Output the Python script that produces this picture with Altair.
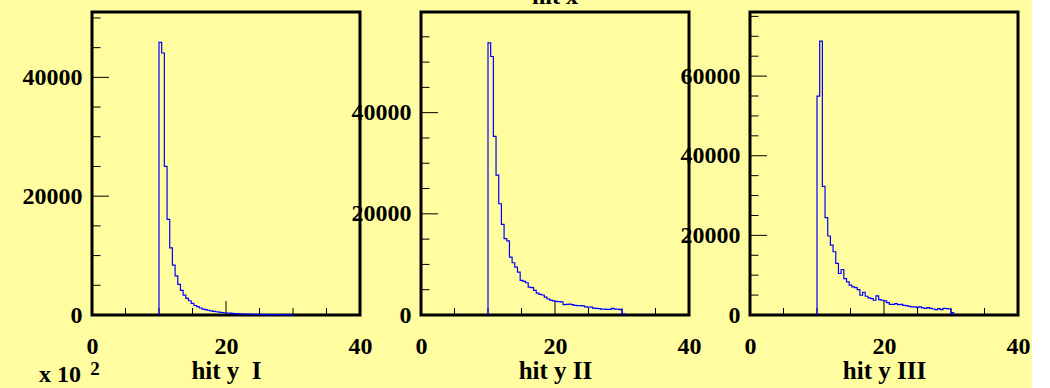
import altair as alt
import pandas as pd

# ---- data ----
bin_start = 10.0
bin_width = 0.4

counts_I = [45900, 44100, 25000, 16100, 11300, 8400, 6600, 5150, 4150, 3350,
            2800, 2400, 1950, 1600, 1400, 1180, 1000, 900, 800, 700,
            620, 550, 480, 420, 380, 340, 300, 270, 240, 210,
            190, 170, 150, 140, 125, 110, 100, 90, 80, 75,
            70, 60, 55, 50, 45, 40, 35, 30, 30, 25]

counts_II = [53800, 51100, 35300, 27640, 21990, 17900, 15100, 14650, 11450, 10330,
             9475, 8490, 6840, 6650, 6380, 5530, 5400, 4870, 4340, 4080,
             3950, 3550, 3160, 2960, 2800, 2700, 2650, 2600, 2050, 2100,
             2150, 2050, 1900, 1850, 1850, 1800, 1600, 1550, 1550, 1350,
             1300, 1250, 1150, 1150, 1120, 1120, 1300, 1180, 1150, 1050,
             250]

counts_III = [54980, 68770, 32280, 24460, 19840, 17570, 15890, 12950, 10420, 11430,
              9160, 8320, 7480, 7060, 6890, 6390, 4960, 5720, 4710, 4290,
              4120, 3700, 4790, 3870, 3700, 3530, 3110, 2690, 2690, 2860,
              2600, 2690, 2440, 2350, 2190, 2020, 2020, 1930, 2020, 1770,
              1680, 1850, 1680, 1510, 1350, 1600, 1350, 1680, 1600, 1510,
              600]

x_labels = [0, 20, 40]
x_minor = [5, 10, 15, 25, 30, 35]
y_major_I = [0, 20000, 40000]
y_major_II = [0, 20000, 40000]
y_major_III = [0, 20000, 40000, 60000]
y_minor_I = [5000, 10000, 15000, 25000, 30000, 35000, 45000, 50000]
y_minor_II = [5000, 10000, 15000, 25000, 30000, 35000, 45000, 50000, 55000]
y_minor_III = [5000, 10000, 15000, 25000, 30000, 35000, 45000, 50000, 55000, 65000, 70000, 75000]
y_max = [51000, 59900, 76100]
x_titles = ["hit y \u00a0I", "hit y II", "hit y III"]
top_title = "hit x"
exp_text = ["x 10", "2"]

W, H = 268, 303
FONT = "Liberation Serif"
BLUE = "#0000ff"


def hist_frame(counts):
    rows = [{"x": bin_start, "n": 0, "i": 0}]
    for k, c in enumerate(counts):
        rows.append({"x": round(bin_start + k * bin_width, 2), "n": c, "i": k + 1})
    rows.append({"x": round(bin_start + len(counts) * bin_width, 2), "n": 0, "i": len(counts) + 1})
    return pd.DataFrame(rows)


def panel(counts, ymax, ymajor, yminor, xtitle, extra=None):
    xs = alt.Scale(domain=[0, 40], nice=False, zero=False)
    ys = alt.Scale(domain=[0, ymax], nice=False, zero=True)
    line = alt.Chart(hist_frame(counts)).mark_line(
        interpolate="step-after", color=BLUE, strokeWidth=1.2
    ).encode(
        x=alt.X("x:Q", scale=xs, axis=alt.Axis(values=x_labels, title=xtitle, format="d")),
        y=alt.Y("n:Q", scale=ys, axis=alt.Axis(values=ymajor, title=None, format="d")),
        order=alt.Order("i:Q"),
    )
    xmin = alt.Chart(pd.DataFrame({"x": x_minor})).mark_rule(color="black", strokeWidth=1).encode(
        x=alt.X("x:Q", scale=xs), y=alt.value(H), y2=alt.value(H - 7))
    xmaj = alt.Chart(pd.DataFrame({"x": [20]})).mark_rule(color="black", strokeWidth=1).encode(
        x=alt.X("x:Q", scale=xs), y=alt.value(H), y2=alt.value(H - 14))
    ymin = alt.Chart(pd.DataFrame({"n": yminor})).mark_rule(color="black", strokeWidth=1).encode(
        y=alt.Y("n:Q", scale=ys), x=alt.value(0), x2=alt.value(8.5))
    ymaj = alt.Chart(pd.DataFrame({"n": ymajor})).mark_rule(color="black", strokeWidth=1).encode(
        y=alt.Y("n:Q", scale=ys), x=alt.value(0), x2=alt.value(17))
    layers = [xmin, xmaj, ymin, ymaj, line]
    if extra:
        layers += extra
    return alt.layer(*layers).properties(width=W, height=H)


exp_layers = [
    alt.Chart(pd.DataFrame({"t": [exp_text[0]]})).mark_text(
        font=FONT, fontWeight="bold", fontSize=24, align="right", baseline="alphabetic", color="black"
    ).encode(text="t:N", x=alt.value(-11), y=alt.value(370)),
    alt.Chart(pd.DataFrame({"t": [exp_text[1]]})).mark_text(
        font=FONT, fontWeight="bold", fontSize=19, align="center", baseline="alphabetic", color="black"
    ).encode(text="t:N", x=alt.value(3), y=alt.value(363)),
]
title_layer = [
    alt.Chart(pd.DataFrame({"t": [top_title]})).mark_text(
        font=FONT, fontWeight="bold", fontSize=24, align="center", baseline="alphabetic", color="black"
    ).encode(text="t:N", x=alt.value(W / 2), y=alt.value(-8)),
]

p1 = panel(counts_I, y_max[0], y_major_I, y_minor_I, x_titles[0], exp_layers)
p2 = panel(counts_II, y_max[1], y_major_II, y_minor_II, x_titles[1], title_layer)
p3 = panel(counts_III, y_max[2], y_major_III, y_minor_III, x_titles[2])

chart = alt.hconcat(p1, p2, p3, spacing=61, bounds="flush").properties(
    background="#fffda0",
    padding={"left": 20, "top": -17, "right": 0, "bottom": 0},
).configure_view(
    stroke="black", strokeWidth=3
).configure_axis(
    grid=False, domain=False, ticks=False,
    labelFont=FONT, labelFontWeight="bold", labelFontSize=24, labelColor="black",
    titleFont=FONT, titleFontWeight="bold", titleFontSize=25, titleColor="black",
    labelOverlap=False, labelFlush=False,
).configure_axisX(
    labelPadding=19, titlePadding=0,
).configure_axisY(
    labelPadding=10,
)

chart.save("out.html", embed_options={"renderer": "svg", "actions": False})
